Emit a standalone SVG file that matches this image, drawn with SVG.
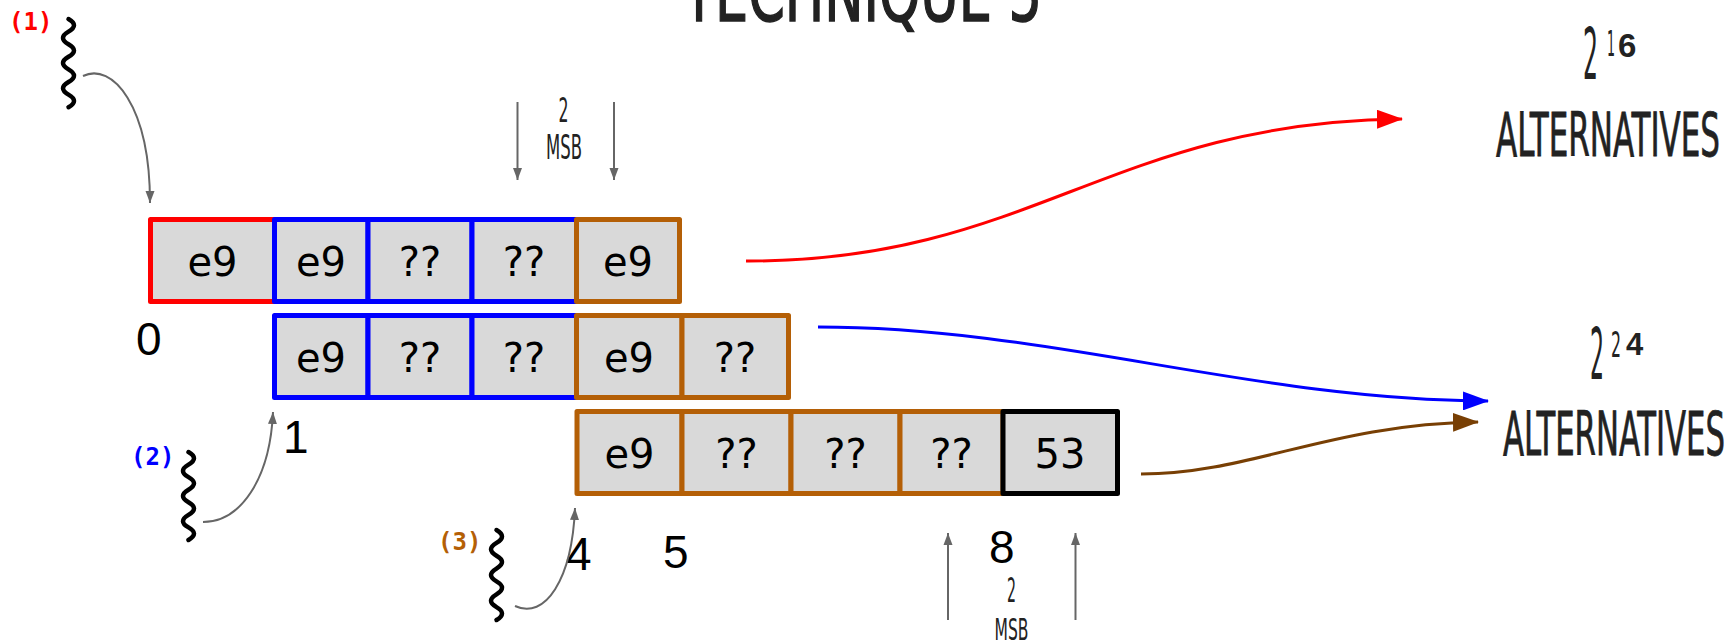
<svg xmlns="http://www.w3.org/2000/svg" width="1731" height="640" viewBox="0 0 1731 640">
<style>
  .cell{fill:#d9d9d9;stroke-width:5;stroke-linejoin:round}
  .red{stroke:#ff0000}.blue{stroke:#0000ff}.org{stroke:#b45f06}.blk{stroke:#000000}
  .ct{font-family:"DejaVu Sans",sans-serif;font-size:40px;fill:#000;text-anchor:middle}
  .idx{font-family:"Liberation Sans",Arial,sans-serif;font-size:46px;fill:#000}
  .hand{font-family:"Liberation Sans Narrow","DejaVu Sans Condensed","Open Sans",sans-serif;font-stretch:condensed;fill:#222}
  .tag{font-family:"DejaVu Sans Mono",monospace;font-weight:bold;font-size:24px}
  .sq{fill:none;stroke:#000;stroke-width:4.5;stroke-linecap:round}
  .gray{fill:none;stroke:#666;stroke-width:2}
  .bold{font-family:"Liberation Sans",Arial,sans-serif;font-weight:bold;fill:#222}
</style>
<defs>
  <marker id="mg" markerUnits="userSpaceOnUse" markerWidth="13" markerHeight="10" refX="12" refY="5" orient="auto"><path d="M0,0.5 L12,5 L0,9.5 z" fill="#666"/></marker>
  <marker id="mr" markerUnits="userSpaceOnUse" markerWidth="27" markerHeight="19" refX="25" refY="9.5" orient="auto"><path d="M0,0 L26,9.5 L0,19 z" fill="#ff0000"/></marker>
  <marker id="mb" markerUnits="userSpaceOnUse" markerWidth="27" markerHeight="19" refX="25" refY="9.5" orient="auto"><path d="M0,0 L26,9.5 L0,19 z" fill="#0000ff"/></marker>
  <marker id="mo" markerUnits="userSpaceOnUse" markerWidth="27" markerHeight="19" refX="25" refY="9.5" orient="auto"><path d="M0,0 L26,9.5 L0,19 z" fill="#783f04"/></marker>
</defs>

<g id="title"><text class="hand" x="683" y="21" font-size="80" textLength="359" lengthAdjust="spacingAndGlyphs" stroke="#222" stroke-width="1.5">TECHNIQUE 5</text></g>

<!-- Row 1 -->
<g id="r1c1"><rect class="cell red" x="150.5" y="219.5" width="124" height="82"/><text class="ct" x="212.5" y="276">e9</text></g>
<g id="r1c2"><rect class="cell blue" x="274.5" y="219.5" width="93.5" height="82"/><text class="ct" x="321" y="276">e9</text></g>
<g id="r1c3"><rect class="cell blue" x="368" y="219.5" width="104" height="82"/><text class="ct" x="420" y="276">??</text></g>
<g id="r1c4"><rect class="cell blue" x="472" y="219.5" width="104.5" height="82"/><text class="ct" x="524" y="276">??</text></g>
<g id="r1c5"><rect class="cell org" x="576.5" y="219.5" width="103" height="82"/><text class="ct" x="628" y="276">e9</text></g>

<!-- Row 2 -->
<g id="r2c1"><rect class="cell blue" x="274.5" y="315.5" width="93.5" height="82"/><text class="ct" x="321" y="372">e9</text></g>
<g id="r2c2"><rect class="cell blue" x="368" y="315.5" width="104" height="82"/><text class="ct" x="420" y="372">??</text></g>
<g id="r2c3"><rect class="cell blue" x="472" y="315.5" width="104.5" height="82"/><text class="ct" x="524" y="372">??</text></g>
<g id="r2c4"><rect class="cell org" x="576.5" y="315.5" width="105.5" height="82"/><text class="ct" x="629" y="372">e9</text></g>
<g id="r2c5"><rect class="cell org" x="682" y="315.5" width="106.5" height="82"/><text class="ct" x="735" y="372">??</text></g>

<!-- Row 3 -->
<g id="r3c1"><rect class="cell org" x="577" y="411.5" width="105" height="82"/><text class="ct" x="629.5" y="468">e9</text></g>
<g id="r3c2"><rect class="cell org" x="682" y="411.5" width="109" height="82"/><text class="ct" x="736.5" y="468">??</text></g>
<g id="r3c3"><rect class="cell org" x="791" y="411.5" width="109" height="82"/><text class="ct" x="845.5" y="468">??</text></g>
<g id="r3c4"><rect class="cell org" x="900" y="411.5" width="103" height="82"/><text class="ct" x="951.5" y="468">??</text></g>
<g id="r3c5"><rect class="cell blk" x="1003" y="411.5" width="114.5" height="82"/><text class="ct" x="1060" y="468">53</text></g>

<!-- index labels -->
<g id="idx0"><text class="idx" x="136" y="355">0</text></g>
<g id="idx1"><text class="idx" x="283" y="453">1</text></g>
<g id="idx4"><text class="idx" x="566" y="570">4</text></g>
<g id="idx5"><text class="idx" x="663" y="568">5</text></g>
<g id="idx8"><text class="idx" x="989" y="563">8</text></g>

<!-- thread tags and squiggles -->
<g id="t1"><text class="tag" x="9" y="30" fill="#ff0000">(1)</text>
<path class="sq" d="M68.5,19 Q79.5,25.3 68.5,31.6 T68.5,44.2 T68.5,56.8 T68.5,69.4 T68.5,82 T68.5,94.6 T68.5,107.2"/></g>
<g id="t2"><text class="tag" x="131" y="465" fill="#0000ff">(2)</text>
<path class="sq" d="M188.5,452 Q199.5,458.3 188.5,464.6 T188.5,477.1 T188.5,489.7 T188.5,502.3 T188.5,514.9 T188.5,527.4 T188.5,540"/></g>
<g id="t3"><text class="tag" x="438" y="550" fill="#b45f06">(3)</text>
<path class="sq" d="M496.5,530 Q507.5,536.4 496.5,542.9 T496.5,555.7 T496.5,568.6 T496.5,581.4 T496.5,594.3 T496.5,607.1 T496.5,620"/></g>

<!-- MSB labels -->
<g id="msb1"><text class="hand" x="563.5" y="122" font-size="34" text-anchor="middle" textLength="10" lengthAdjust="spacingAndGlyphs">2</text>
<text class="hand" x="564" y="159" font-size="33" text-anchor="middle" textLength="36" lengthAdjust="spacingAndGlyphs">MSB</text></g>
<g id="msb2"><text class="hand" x="1011.5" y="602" font-size="34" text-anchor="middle" textLength="9" lengthAdjust="spacingAndGlyphs">2</text>
<text class="hand" x="1011.5" y="640" font-size="31" text-anchor="middle" textLength="34" lengthAdjust="spacingAndGlyphs">MSB</text></g>

<!-- results -->
<g id="res1">
<text class="hand" x="1583" y="79" font-size="71" textLength="15" lengthAdjust="spacingAndGlyphs">2</text>
<text class="hand" x="1607" y="56" font-size="36" textLength="8" lengthAdjust="spacingAndGlyphs">1</text>
<text class="bold" x="1618" y="57" font-size="33">6</text>
<text class="hand" x="1496" y="156" font-size="61" textLength="224" lengthAdjust="spacingAndGlyphs" stroke="#222" stroke-width="0.8">ALTERNATIVES</text>
</g>
<g id="res2">
<text class="hand" x="1590" y="379" font-size="71" textLength="14" lengthAdjust="spacingAndGlyphs">2</text>
<text class="hand" x="1611" y="357" font-size="36" textLength="10" lengthAdjust="spacingAndGlyphs">2</text>
<text class="bold" x="1626" y="355" font-size="31">4</text>
<text class="hand" x="1503" y="455" font-size="61" textLength="222" lengthAdjust="spacingAndGlyphs" stroke="#222" stroke-width="0.8">ALTERNATIVES</text>
</g>

<g id="connectors">
  <path class="gray" d="M83,76 C112,62 150,105 150,203" marker-end="url(#mg)"/>
  <path class="gray" d="M203,522 C240,522 270,480 273,412" marker-end="url(#mg)"/>
  <path class="gray" d="M515,606 C545,620 572,580 575,508" marker-end="url(#mg)"/>
  <path class="gray" d="M517.5,102 L517.5,180" marker-end="url(#mg)"/>
  <path class="gray" d="M614,102 L614,180" marker-end="url(#mg)"/>
  <path class="gray" d="M948,620 L948,533" marker-end="url(#mg)"/>
  <path class="gray" d="M1075.5,620 L1075.5,533" marker-end="url(#mg)"/>
  <path d="M746,261 C1030,262 1110,122 1402,119" fill="none" stroke="#ff0000" stroke-width="3" marker-end="url(#mr)"/>
  <path d="M818,327 C1050,327 1250,400 1488,401" fill="none" stroke="#0000ff" stroke-width="3" marker-end="url(#mb)"/>
  <path d="M1141,474 C1250,474 1330,424 1478,422" fill="none" stroke="#783f04" stroke-width="3" marker-end="url(#mo)"/>
</g>
</svg>
